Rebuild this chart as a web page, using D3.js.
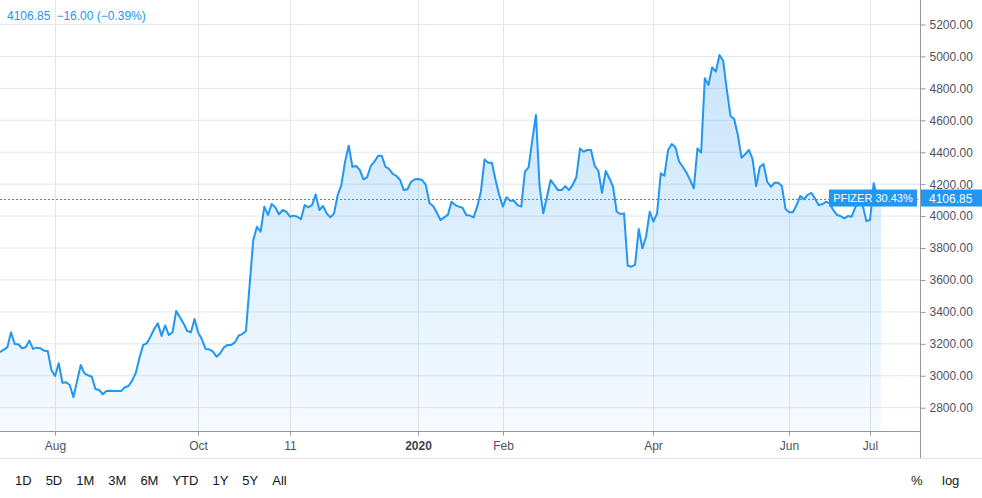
<!DOCTYPE html>
<html>
<head>
	<title>Index vs PFIZER</title>
	<meta charset="utf-8">
	<script src="https://cdn.jsdelivr.net/npm/d3@7/dist/d3.min.js"></script>
	<style>
		body { margin:0; background:#fff; }
		#chart { width:982px; height:498px; }
		text { font-family:"Liberation Sans", Arial, sans-serif; }
	</style>
</head>
<body>
	<div id="chart"></div>
	<script>
		// closing values, one per trading session
		var values = [
			3144, 3161, 3175, 3269, 3196, 3194, 3169, 3175, 3217, 3165,
			3173, 3169, 3154, 3152, 3033, 2995, 3075, 2953, 2956, 2939,
			2862, 2964, 3064, 3012, 3000, 2991, 2914, 2908, 2881, 2901,
			2903, 2902, 2901, 2901, 2925, 2933, 2966, 3016, 3110, 3190,
			3200, 3242, 3290, 3325, 3246, 3312, 3252,
			3269, 3403, 3363, 3325, 3277, 3269, 3352, 3267, 3225, 3165,
			3163, 3148, 3116, 3138, 3175, 3190, 3190, 3206, 3248, 3258,
			3277, 3565, 3847, 3930, 3899, 4056, 4004, 4073, 4052, 4008,
			4035, 4024, 3993, 4000, 3993, 3977, 4066, 4052, 4066, 4133,
			4035, 4060, 4014, 3989, 4014, 4129, 4192, 4338, 4438, 4306,
			4311, 4286, 4227, 4240, 4311, 4338, 4375, 4375, 4306, 4292,
			4261, 4248, 4223, 4160, 4165, 4212, 4227, 4229, 4223, 4192,
			4077, 4060, 4018, 3972, 3989, 4004, 4087, 4066, 4056, 4049,
			4004, 4000, 3989, 4056, 4150, 4351, 4331, 4331, 4223, 4129,
			4056, 4115, 4093, 4093, 4066, 4056, 4275, 4302, 4473, 4630,
			4181, 4014, 4118, 4223, 4192, 4160, 4160, 4185, 4160, 4192,
			4240, 4421, 4400, 4411, 4411, 4311, 4281, 4143, 4279, 4234,
			4181, 4024, 4010, 4014, 3686, 3680, 3691, 3916, 3795, 3868,
			4024, 3962, 4014, 4265, 4250, 4411, 4448, 4428, 4338, 4306,
			4269, 4223, 4171, 4421, 4394, 4860, 4818, 4929, 4901, 5006,
			4970, 4787, 4624, 4605, 4505, 4363, 4384, 4411, 4355, 4185,
			4306, 4323, 4212, 4181, 4206, 4206, 4185, 4041, 4021, 4021,
			4066, 4123, 4102, 4129, 4143, 4108, 4066, 4071, 4087, 4077,
			4035, 4004, 3997, 3983, 3997, 3993, 4052, 4098, 4066, 3966,
			3972, 4202, 4122.85, 4106.85
		];

		// time axis: session index of each label
		var timeTickIdx = [15, 54, 79, 114, 137, 178, 215, 237];
		var timeTickLabels = ["Aug", "Oct", "11", "2020", "Feb", "Apr", "Jun", "Jul"];
		var priceTicks = [2800, 3000, 3200, 3400, 3600, 3800, 4000, 4200, 4400, 4600, 4800, 5000, 5200];
		var ranges = ["1D", "5D", "1M", "3M", "6M", "YTD", "1Y", "5Y", "All"];

		var lastValue = values[values.length - 1];
		var change = lastValue - values[values.length - 2];
		var compareLabel = "PFIZER 30.43%";

		var W = 982, H = 498;
		var paneW = 920, paneH = 431, axisBottom = 458;
		var blue = "#2196f3", grid = "#e3e6ed", axisCol = "#9598a1", textCol = "#50535e";

		var svg = d3.select('#chart')
			.append('svg')
			.attr('width', W)
			.attr('height', H);

		var x = d3.scaleLinear().domain([0, values.length - 1]).range([0, 881]);
		var y = d3.scaleLinear().domain([2800, 5200]).range([407.2, 24]);

		// grid
		svg.append("g").selectAll("line")
			.data(priceTicks)
			.enter().append("line")
			.attr("x1", 0).attr("x2", paneW)
			.attr("y1", function(d) { return y(d) + 0.5; })
			.attr("y2", function(d) { return y(d) + 0.5; })
			.attr("stroke", grid);
		svg.append("g").selectAll("line")
			.data(timeTickIdx)
			.enter().append("line")
			.attr("y1", 0).attr("y2", paneH)
			.attr("x1", function(d) { return Math.round(x(d)) + 0.5; })
			.attr("x2", function(d) { return Math.round(x(d)) + 0.5; })
			.attr("stroke", grid);

		// area + line
		var grad = svg.append("defs").append("linearGradient")
			.attr("id", "fill")
			.attr("gradientUnits", "userSpaceOnUse")
			.attr("x1", 0).attr("x2", 0).attr("y1", y(5000)).attr("y2", paneH);
		grad.append("stop").attr("offset", 0).attr("stop-color", blue).attr("stop-opacity", 0.25);
		grad.append("stop").attr("offset", 1).attr("stop-color", blue).attr("stop-opacity", 0.04);

		var area = d3.area()
			.x(function(d, i) { return x(i); })
			.y0(paneH)
			.y1(function(d) { return y(d); });
		var line = d3.line()
			.x(function(d, i) { return x(i); })
			.y(function(d) { return y(d); });

		svg.append("path").datum(values)
			.attr("d", area)
			.attr("fill", "url(#fill)");
		svg.append("path").datum(values)
			.attr("d", line)
			.attr("fill", "none")
			.attr("stroke", blue)
			.attr("stroke-width", 2)
			.attr("stroke-linejoin", "round");

		// last price dotted line
		svg.append("line")
			.attr("x1", 0).attr("x2", paneW)
			.attr("y1", Math.round(y(lastValue)) + 0.5)
			.attr("y2", Math.round(y(lastValue)) + 0.5)
			.attr("stroke", blue)
			.attr("stroke-dasharray", "2,2");

		// price axis
		var yAxis = d3.axisRight(y)
			.tickValues(priceTicks)
			.tickSize(5)
			.tickPadding(4)
			.tickFormat(d3.format(".2f"));
		var gy = svg.append("g")
			.attr("transform", "translate(" + (paneW + 0.5) + ",0.5)")
			.call(yAxis);
		gy.select(".domain").remove();
		gy.selectAll(".tick line").attr("stroke", axisCol);
		gy.selectAll(".tick text").attr("fill", textCol).attr("font-size", 12)
			.attr("font-family", "Liberation Sans, Arial, sans-serif");
		svg.append("line")
			.attr("x1", paneW + 0.5).attr("x2", paneW + 0.5)
			.attr("y1", 0).attr("y2", axisBottom)
			.attr("stroke", axisCol);

		// time axis
		var xAxis = d3.axisBottom(x)
			.tickValues(timeTickIdx)
			.tickSize(4)
			.tickPadding(6)
			.tickFormat(function(d, i) { return timeTickLabels[i]; });
		var gx = svg.append("g")
			.attr("transform", "translate(0," + (paneH + 0.5) + ")")
			.call(xAxis);
		gx.select(".domain").remove();
		gx.selectAll(".tick").attr("transform", function(d) { return "translate(" + (Math.round(x(d)) + 0.5) + ",0)"; });
		gx.selectAll(".tick line").attr("stroke", axisCol);
		gx.selectAll(".tick text")
			.attr("fill", function(d, i) { return timeTickLabels[i] === "2020" ? "#3d4350" : textCol; })
			.attr("font-weight", function(d, i) { return timeTickLabels[i] === "2020" ? "bold" : "normal"; })
			.attr("font-size", 12)
			.attr("font-family", "Liberation Sans, Arial, sans-serif");
		svg.append("line")
			.attr("x1", 0).attr("x2", paneW)
			.attr("y1", paneH + 0.5).attr("y2", paneH + 0.5)
			.attr("stroke", axisCol);
		svg.append("line")
			.attr("x1", 0).attr("x2", W)
			.attr("y1", axisBottom + 0.5).attr("y2", axisBottom + 0.5)
			.attr("stroke", "#e0e3eb");

		// last value labels
		var ly = y(lastValue);
		svg.append("rect")
			.attr("x", 829).attr("y", ly - 9).attr("width", 88).attr("height", 17)
			.attr("fill", blue);
		svg.append("text")
			.attr("x", 873).attr("y", ly)
			.attr("dy", "0.35em")
			.attr("text-anchor", "middle")
			.attr("fill", "#fff").attr("font-size", 11)
			.text(compareLabel);
		svg.append("rect")
			.attr("x", paneW + 1).attr("y", ly - 9).attr("width", W - paneW - 1).attr("height", 17)
			.attr("fill", blue);
		svg.append("text")
			.attr("x", 929).attr("y", ly)
			.attr("dy", "0.35em")
			.attr("fill", "#fff").attr("font-size", 12)
			.text(d3.format(".2f")(lastValue));

		// header
		var head = svg.append("text")
			.attr("x", 7).attr("y", 20)
			.attr("fill", blue).attr("font-size", 12);
		head.append("tspan").text(d3.format(".2f")(lastValue));
		head.append("tspan").attr("dx", 6)
			.text(d3.format(".2f")(change).replace("-", "\u2212") + " (" +
				d3.format(".2f")(change / values[values.length - 2] * 100).replace("-", "\u2212") + "%)");

		// range buttons
		var bx = 15;
		ranges.forEach(function(r) {
			var t = svg.append("text")
				.attr("x", bx).attr("y", 485)
				.attr("fill", "#131722").attr("font-size", 13)
				.text(r);
			bx += t.node().getComputedTextLength() + 14;
		});
		svg.append("text").attr("x", 911).attr("y", 485)
			.attr("fill", "#131722").attr("font-size", 13).text("%");
		svg.append("text").attr("x", 942).attr("y", 485)
			.attr("fill", "#131722").attr("font-size", 13).text("log");
	</script>
</body>
</html>
